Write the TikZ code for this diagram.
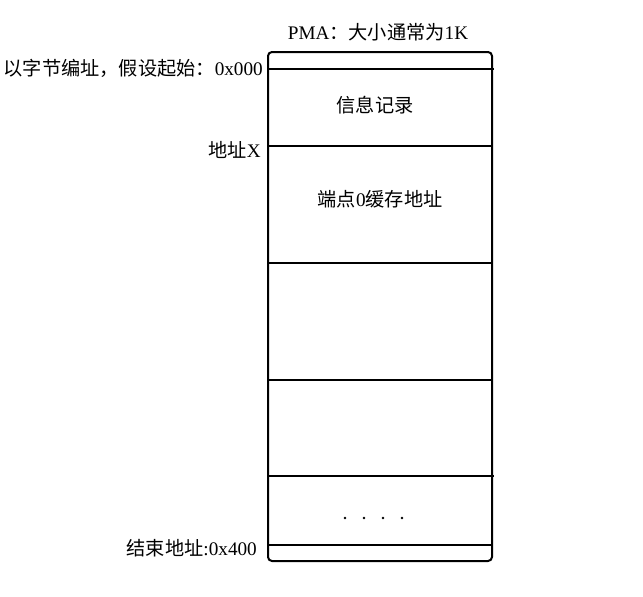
\documentclass[tikz,border=0pt]{standalone}
\usepackage{fontspec}
\setmainfont{Liberation Serif}
\newfontfamily\cjk{Noto Sans CJK SC}
\usetikzlibrary{positioning}

\begin{document}
\begin{tikzpicture}[x=1pt,y=-1pt,
    every node/.style={font=\fontsize{19.2}{22}\selectfont, inner sep=0pt},
    memline/.style={line width=2pt},
    addr/.style={anchor=east}]
    \useasboundingbox (0,0) rectangle (643,597);
    \node[draw, memline, rounded corners=4pt, minimum width=224pt, minimum height=509pt] (pma) at (380,306.5) {};
    \foreach \y/\xe in {69/494, 146/492, 263/492, 380/492, 476/494, 545/492}
        \draw[memline] (268,\y) -- (\xe,\y);
    \node (title) at (378,32) {PMA{\cjk ：大小通常为}1K};
    \node[addr] (start) at (263,68) {{\cjk 以字节编址，假设起始：}0x000};
    \node (info) at (375,105) {{\cjk 信息记录}};
    \node[addr] (addrx) at (261,150) {{\cjk 地址}X};
    \node (ep0) at (380,199) {{\cjk 端点}0{\cjk 缓存地址}};
    \foreach \x in {345,364,383,402}
        \fill (\x,518) circle (1.4pt);
    \node[addr] (end) at (257,548) {{\cjk 结束地址}:0x400};
\end{tikzpicture}
\end{document}
